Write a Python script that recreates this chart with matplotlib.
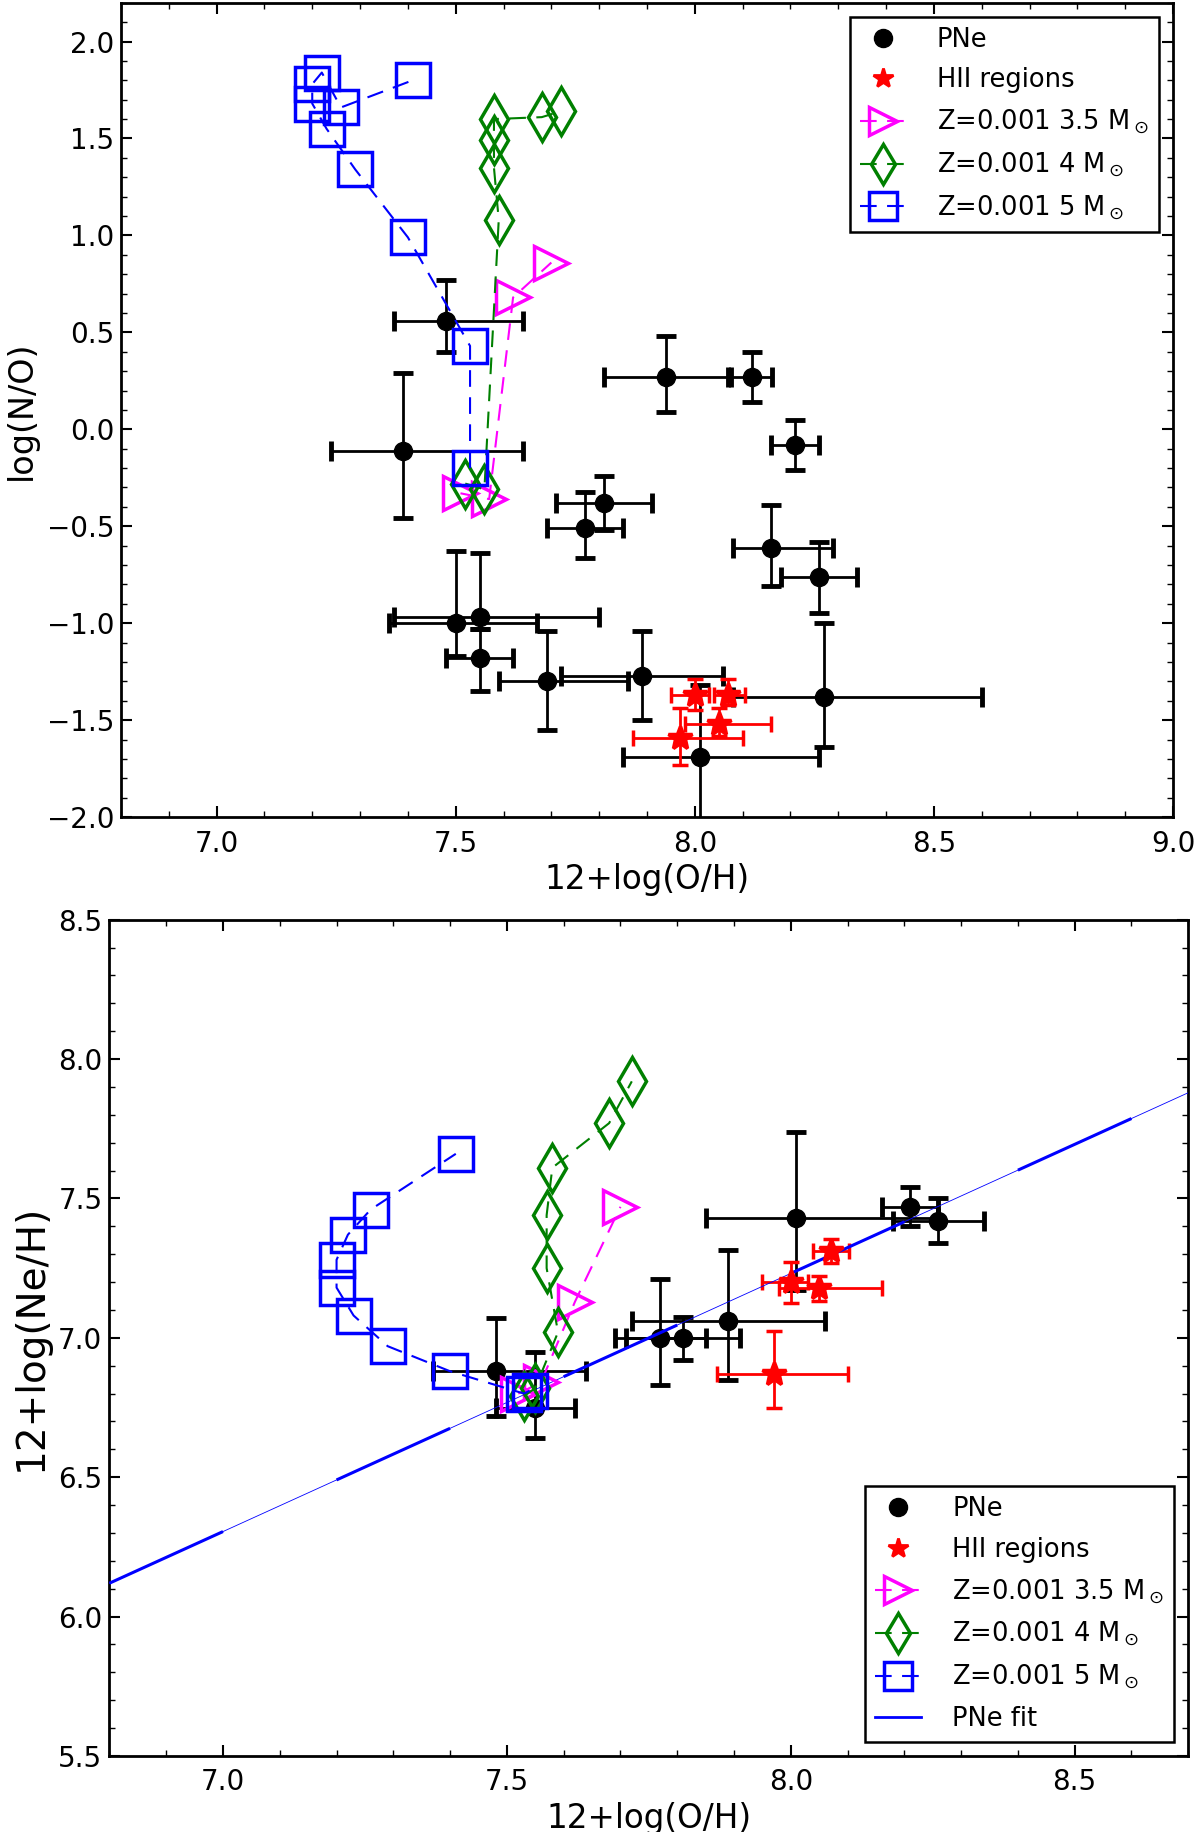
import numpy as np
import matplotlib
matplotlib.use('Agg')
import matplotlib.pyplot as plt
from matplotlib.lines import Line2D
from matplotlib.ticker import MultipleLocator

# ----------------------------------------------------------------
# DATA -- top panel: log(N/O) vs 12+log(O/H)
# ----------------------------------------------------------------
pne_oh = [7.48, 7.39, 7.94, 8.12, 8.21, 7.81, 7.77, 8.16,
          8.26, 7.50, 7.55, 7.55, 7.69, 7.89, 8.27, 8.01]
pne_oh_lo = [0.11, 0.15, 0.13, 0.045, 0.05, 0.10, 0.08, 0.08,
             0.08, 0.14, 0.18, 0.07, 0.10, 0.17, 0.19, 0.16]
pne_oh_hi = [0.16, 0.25, 0.13, 0.042, 0.05, 0.10, 0.08, 0.13,
             0.08, 0.17, 0.25, 0.07, 0.17, 0.17, 0.33, 0.25]
pne_no = [0.56, -0.11, 0.27, 0.27, -0.08, -0.38, -0.51, -0.61,
          -0.76, -1.00, -0.97, -1.18, -1.30, -1.27, -1.38, -1.69]
pne_no_lo = [0.16, 0.35, 0.18, 0.13, 0.13, 0.14, 0.155, 0.20,
             0.19, 0.17, 0.06, 0.17, 0.25, 0.23, 0.26, 0.45]
pne_no_hi = [0.21, 0.40, 0.21, 0.13, 0.13, 0.14, 0.185, 0.22,
             0.18, 0.37, 0.33, 0.15, 0.26, 0.23, 0.38, 0.37]

hii_oh = [8.00, 8.07, 8.05, 7.97]
hii_oh_lo = [0.05, 0.03, 0.07, 0.10]
hii_oh_hi = [0.03, 0.035, 0.11, 0.13]
hii_no = [-1.37, -1.37, -1.52, -1.59]
hii_no_lo = [0.08, 0.05, 0.06, 0.14]
hii_no_hi = [0.08, 0.08, 0.08, 0.15]

m35_oh_top = [7.51, 7.57, 7.62, 7.70]
m35_no = [-0.33, -0.36, 0.68, 0.86]
m4_oh_top = [7.52, 7.56, 7.59, 7.58, 7.58, 7.58, 7.68, 7.72]
m4_no = [-0.28, -0.31, 1.08, 1.35, 1.49, 1.60, 1.61, 1.64]
m5_oh_top = [7.53, 7.53, 7.40, 7.29, 7.23, 7.20, 7.20, 7.22, 7.26, 7.41]
m5_no = [-0.20, 0.43, 0.99, 1.34, 1.55, 1.68, 1.78, 1.84, 1.66, 1.80]

# ----------------------------------------------------------------
# DATA -- bottom panel: 12+log(Ne/H) vs 12+log(O/H)
# ----------------------------------------------------------------
pne2_oh = [7.48, 7.55, 7.77, 7.81, 7.89, 8.01, 8.21, 8.26]
pne2_oh_lo = [0.11, 0.07, 0.08, 0.10, 0.17, 0.16, 0.05, 0.08]
pne2_oh_hi = [0.16, 0.07, 0.08, 0.10, 0.17, 0.25, 0.05, 0.08]
pne2_ne = [6.88, 6.75, 7.00, 7.00, 7.06, 7.43, 7.47, 7.42]
pne2_ne_lo = [0.16, 0.11, 0.17, 0.08, 0.21, 0.26, 0.07, 0.08]
pne2_ne_hi = [0.19, 0.20, 0.21, 0.075, 0.255, 0.31, 0.07, 0.08]

hii2_oh = [8.07, 8.00, 8.05, 7.97]
hii2_oh_lo = [0.03, 0.05, 0.07, 0.10]
hii2_oh_hi = [0.032, 0.03, 0.11, 0.13]
hii2_ne = [7.31, 7.20, 7.18, 6.87]
hii2_ne_lo = [0.043, 0.076, 0.047, 0.12]
hii2_ne_hi = [0.043, 0.071, 0.042, 0.155]

m35_oh_bot = [7.52, 7.56, 7.62, 7.70]
m35_ne = [6.80, 6.84, 7.13, 7.47]
m4_oh_bot = [7.53, 7.55, 7.59, 7.57, 7.57, 7.58, 7.68, 7.72]
m4_ne = [6.79, 6.82, 7.02, 7.25, 7.44, 7.61, 7.77, 7.92]
m5_oh_bot = [7.54, 7.53, 7.40, 7.29, 7.23, 7.20, 7.20, 7.22, 7.26, 7.41]
m5_ne = [6.81, 6.80, 6.88, 6.97, 7.08, 7.18, 7.28, 7.37, 7.46, 7.66]

# linear fit to PNe: Ne/H = slope * O/H + intercept
fit_slope = 0.926
fit_intercept = -0.177

model_labels = ['Z=0.001 3.5 M$_\\odot$', 'Z=0.001 4 M$_\\odot$',
                'Z=0.001 5 M$_\\odot$']

# ----------------------------------------------------------------
# STYLE
# ----------------------------------------------------------------
DPI = 100
fig = plt.figure(figsize=(12, 18.32), dpi=DPI)
ax1 = fig.add_axes([0.1008, 0.554, 0.8767, 0.4445])
ax2 = fig.add_axes([0.0912, 0.0415, 0.899, 0.4565])

err_kw = dict(fmt='o', color='black', ms=13, elinewidth=2,
              capsize=7, capthick=3.5, zorder=2)
hii_kw = dict(fmt='*', color='red', mec='red', ms=18, mew=2.5,
              elinewidth=2, capsize=6, capthick=4, zorder=3)
dash = (0, (8, 5))
model_kw = dict(ls=dash, lw=1.5, ms=24, mew=2.5, mfc='none', zorder=4)
model_styles = [('magenta', '>'), ('green', 'd'), ('blue', 's')]


def style_axes(ax):
    for sp in ax.spines.values():
        sp.set_linewidth(2)
    ax.tick_params(which='both', direction='in', top=True, right=True)
    ax.tick_params(which='major', length=8, width=1.5, labelsize=20)
    ax.tick_params(which='minor', length=4, width=1)
    ax.tick_params(axis='x', pad=9)
    ax.tick_params(axis='y', pad=5)
    ax.xaxis.set_major_locator(MultipleLocator(0.5))
    ax.xaxis.set_minor_locator(MultipleLocator(0.1))
    ax.yaxis.set_major_locator(MultipleLocator(0.5))
    ax.yaxis.set_minor_locator(MultipleLocator(0.1))
    ax.set_xlabel('12+log(O/H)', fontsize=23.5, labelpad=4)


def legend_handles(with_fit=False):
    hs = [Line2D([], [], ls='none', marker='o', color='black', ms=13),
          Line2D([], [], ls='none', marker='*', color='red', mew=2,
                 ms=15)]
    for (c, m) in model_styles:
        hs.append(Line2D([], [], color=c, ls=dash, lw=1.5, marker=m,
                         ms=20, mew=2.5, mfc='none'))
    labels = ['PNe', 'HII regions'] + model_labels
    if with_fit:
        hs.append(Line2D([], [], color='blue', lw=2))
        labels.append('PNe fit')
    return hs, labels


leg_kw = dict(fontsize=18.5, numpoints=1, fancybox=False, framealpha=1,
              edgecolor='black', borderaxespad=0.55, handlelength=1.8,
              handletextpad=1.2, labelspacing=0.55, borderpad=0.4)

# ----------------------------------------------------------------
# TOP PANEL
# ----------------------------------------------------------------
ax1.errorbar(pne_oh, pne_no, xerr=[pne_oh_lo, pne_oh_hi],
             yerr=[pne_no_lo, pne_no_hi], **err_kw)
ax1.errorbar(hii_oh, hii_no, xerr=[hii_oh_lo, hii_oh_hi],
             yerr=[hii_no_lo, hii_no_hi], **hii_kw)
for (c, m), xs, ys in zip(model_styles,
                          [m35_oh_top, m4_oh_top, m5_oh_top],
                          [m35_no, m4_no, m5_no]):
    ax1.plot(xs, ys, color=c, marker=m, mec=c, **model_kw)

ax1.set_xlim(6.8, 9.0)
ax1.set_ylim(-2.0, 2.2)
style_axes(ax1)
ax1.set_ylabel('log(N/O)', fontsize=24, labelpad=6)
hs, labels = legend_handles()
leg1 = ax1.legend(hs, labels, loc='upper right', **leg_kw)
leg1.get_frame().set_linewidth(1.8)

# ----------------------------------------------------------------
# BOTTOM PANEL
# ----------------------------------------------------------------
ax2.errorbar(pne2_oh, pne2_ne, xerr=[pne2_oh_lo, pne2_oh_hi],
             yerr=[pne2_ne_lo, pne2_ne_hi], **err_kw)
ax2.errorbar(hii2_oh, hii2_ne, xerr=[hii2_oh_lo, hii2_oh_hi],
             yerr=[hii2_ne_lo, hii2_ne_hi], **hii_kw)

ax2.set_xlim(6.8, 8.7)
ax2.set_ylim(5.5, 8.5)

# fit line: thin solid plus thicker dashes, each dash 0.2 dex in O/H
xf = np.array(ax2.get_xlim())
yf = fit_slope * xf + fit_intercept
ax2.plot(xf, yf, color='blue', lw=0.6, zorder=3)
p0 = ax2.transData.transform((xf[0], yf[0]))
p1 = ax2.transData.transform((xf[0] + 0.2, yf[0] + 0.2 * fit_slope))
seg_pt = np.hypot(*(p1 - p0)) * 72.0 / DPI
thick = 2.2
ax2.plot(xf, yf, color='blue', lw=thick, solid_capstyle='butt',
         dash_capstyle='butt',
         ls=(0, (seg_pt / thick, seg_pt / thick)), zorder=3)

for (c, m), xs, ys in zip(model_styles,
                          [m35_oh_bot, m4_oh_bot, m5_oh_bot],
                          [m35_ne, m4_ne, m5_ne]):
    ax2.plot(xs, ys, color=c, marker=m, mec=c, **model_kw)

style_axes(ax2)
ax2.set_ylabel('12+log(Ne/H)', fontsize=28, labelpad=6)
hs, labels = legend_handles(with_fit=True)
leg2 = ax2.legend(hs, labels, loc='lower right', **leg_kw)
leg2.get_frame().set_linewidth(1.8)

fig.savefig('out.png', dpi=DPI)
